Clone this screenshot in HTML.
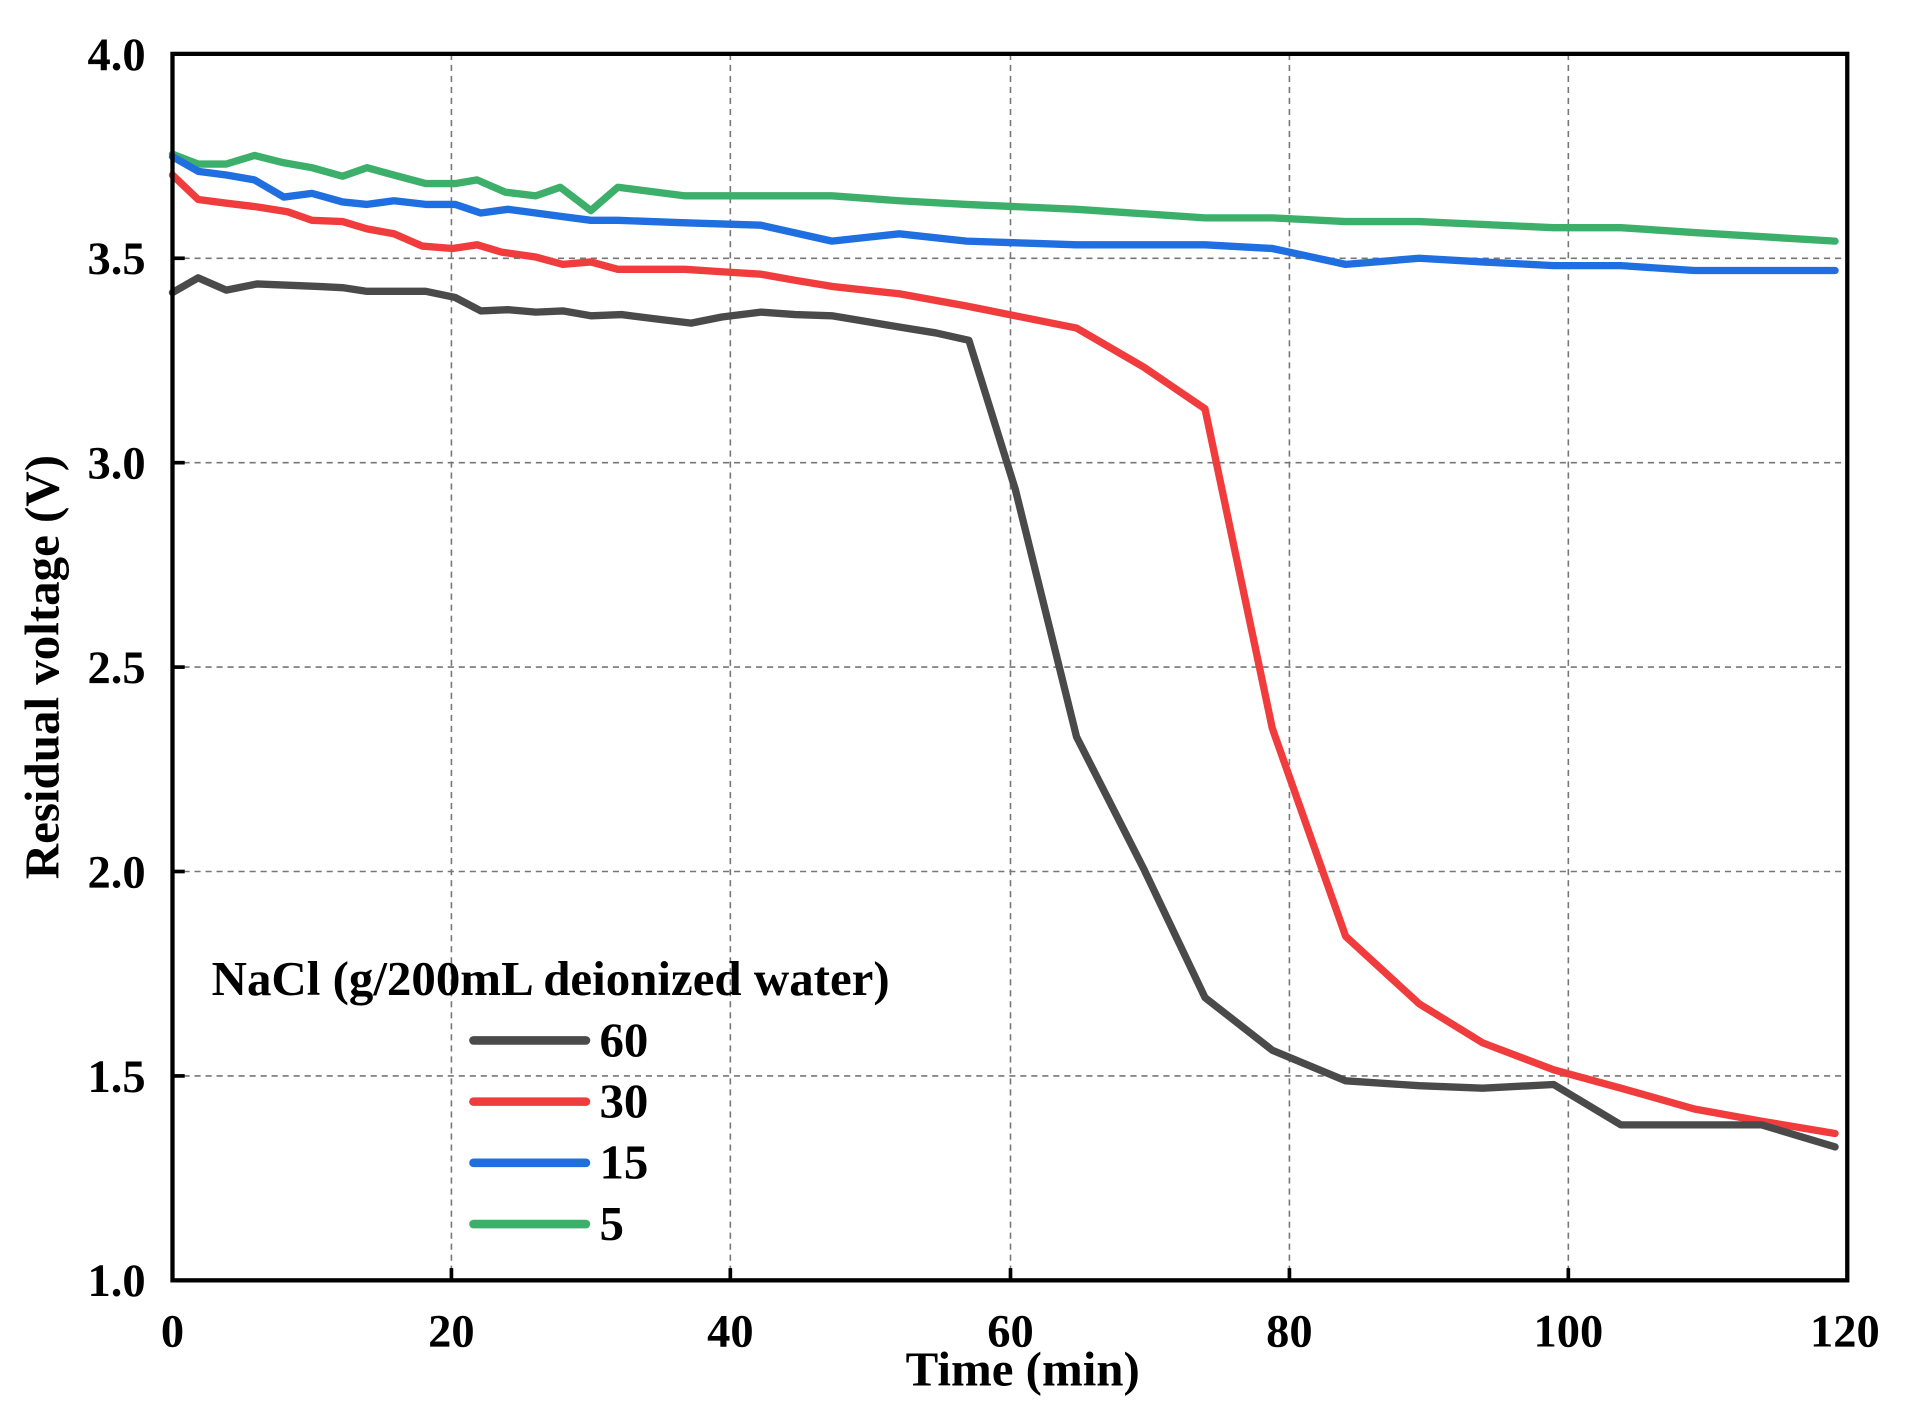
<!DOCTYPE html>
<html><head><meta charset="utf-8"><style>
html,body{margin:0;padding:0;background:#fff;}
svg{display:block;}
text{font-family:"Liberation Serif",serif;font-weight:bold;fill:#000;}
</style></head><body>
<svg width="1917" height="1426" viewBox="0 0 1567 1165" preserveAspectRatio="none" xmlns="http://www.w3.org/2000/svg">
<rect width="1567" height="1165" fill="#fff"/>
<g stroke="#777" stroke-width="1.3" stroke-dasharray="5,4" fill="none">
<line x1="369" y1="44" x2="369" y2="1046"/><line x1="597" y1="44" x2="597" y2="1046"/>
<line x1="826" y1="44" x2="826" y2="1046"/><line x1="1054" y1="44" x2="1054" y2="1046"/>
<line x1="1282" y1="44" x2="1282" y2="1046"/>
<line x1="141" y1="211" x2="1510" y2="211"/><line x1="141" y1="378" x2="1510" y2="378"/>
<line x1="141" y1="545" x2="1510" y2="545"/><line x1="141" y1="712" x2="1510" y2="712"/>
<line x1="141" y1="879" x2="1510" y2="879"/>
</g>
<g fill="none" stroke-width="6" stroke-linejoin="round" stroke-linecap="round">
<polyline stroke="#3cb06a" points="141,126 162,134 185,134 208,127 232,133 255,137 280,144 300,137 322,143 348,150 372,150 390,147 413,157 438,160 458,153 483,172 505,153 560,160 680,160 735,164 790,167 880,171 985,178 1040,178 1100,181 1160,181 1270,186 1325,186 1385,190 1500,197"/>
<polyline stroke="#1f6fe0" points="141,128 162,140 185,143 208,147 232,161 255,158 280,165 300,167 322,164 348,167 372,167 393,174 415,171 438,174 460,177 483,180 505,180 560,182 622,184 680,197 735,191 790,197 850,199 880,200 935,200 985,200 1040,203 1100,216 1160,211 1212,214 1270,217 1325,217 1385,221 1500,221"/>
<polyline stroke="#f03c3c" points="141,143 162,163 185,166 210,169 235,173 255,180 280,181 300,187 322,191 345,201 370,203 390,200 410,206 438,210 460,216 483,214 505,220 560,220 590,222 622,224 650,229 680,234 735,240 790,250 830,258 880,268 935,300 985,334 1040,595 1100,765 1160,820 1212,852 1270,874 1325,889 1385,906 1440,916 1500,926"/>
<polyline stroke="#4a4a4a" points="141,239 162,227 185,237 210,232 235,233 260,234 280,235 300,238 325,238 348,238 372,243 393,254 415,253 438,255 460,254 483,258 508,257 540,261 565,264 590,259 622,255 650,257 680,258 710,263 740,268 765,272 792,278 830,400 880,602 935,710 985,815 1040,858 1100,883 1160,887 1212,889 1270,886 1325,919 1385,919 1440,919 1500,937"/>
</g>
<rect x="141" y="44" width="1369" height="1002" fill="none" stroke="#000" stroke-width="3.5"/>
<g stroke="#000" stroke-width="3">
<line x1="369" y1="1046" x2="369" y2="1036"/><line x1="597" y1="1046" x2="597" y2="1036"/>
<line x1="826" y1="1046" x2="826" y2="1036"/><line x1="1054" y1="1046" x2="1054" y2="1036"/>
<line x1="1282" y1="1046" x2="1282" y2="1036"/>
<line x1="141" y1="211" x2="151" y2="211"/><line x1="141" y1="378" x2="151" y2="378"/>
<line x1="141" y1="545" x2="151" y2="545"/><line x1="141" y1="712" x2="151" y2="712"/>
<line x1="141" y1="879" x2="151" y2="879"/>
</g>
<g font-size="38" text-anchor="end">
<text x="119" y="57">4.0</text><text x="119" y="224">3.5</text><text x="119" y="391">3.0</text>
<text x="119" y="558">2.5</text><text x="119" y="725">2.0</text><text x="119" y="892">1.5</text>
<text x="119" y="1059">1.0</text>
</g>
<g font-size="38" text-anchor="middle">
<text x="141" y="1100">0</text><text x="369" y="1100">20</text><text x="597" y="1100">40</text>
<text x="826" y="1100">60</text><text x="1054" y="1100">80</text><text x="1282" y="1100">100</text>
<text x="1508" y="1100">120</text>
</g>
<text x="836" y="1132" font-size="40" text-anchor="middle">Time (min)</text>
<text transform="translate(48,545) rotate(-90)" font-size="40" text-anchor="middle">Residual voltage (V)</text>
<text x="173" y="813" font-size="40">NaCl (g/200mL deionized water)</text>
<g stroke-width="7" stroke-linecap="round">
<line x1="387" y1="850" x2="479" y2="850" stroke="#4a4a4a"/>
<line x1="387" y1="900" x2="479" y2="900" stroke="#f03c3c"/>
<line x1="387" y1="950" x2="479" y2="950" stroke="#1f6fe0"/>
<line x1="387" y1="1000" x2="479" y2="1000" stroke="#3cb06a"/>
</g>
<g font-size="40">
<text x="490" y="863">60</text><text x="490" y="913">30</text><text x="490" y="963">15</text><text x="490" y="1013">5</text>
</g>
</svg>
</body></html>
